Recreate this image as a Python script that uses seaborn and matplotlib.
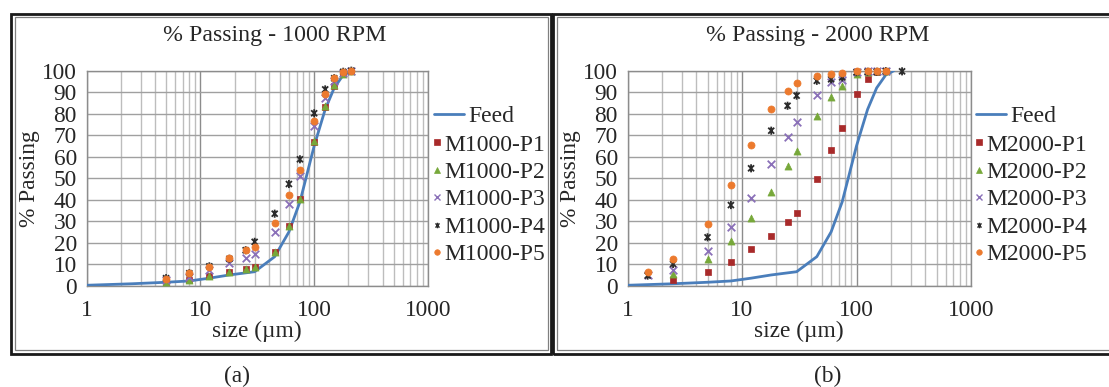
import numpy as np
import pandas as pd
import matplotlib
matplotlib.use("Agg")
import matplotlib.pyplot as plt
import seaborn as sns
from matplotlib.path import Path
from matplotlib.lines import Line2D
from matplotlib.patches import Rectangle
from matplotlib.ticker import LogLocator, FuncFormatter

# ---------------- data ----------------
feed_size = [1, 2.5, 5, 8, 12, 18, 30, 45, 60, 75, 100, 125, 150, 180, 212]
feed_pass = [0.2, 0.9, 1.6, 2.2, 3.5, 5.0, 6.5, 13.5, 25, 39, 65, 82, 92, 98, 100]

size_a = [5, 8, 12, 18, 25, 30, 45, 60, 75, 100, 125, 150, 180, 212]
m1000_p1 = [1.8, 2.5, 4.3, 6.5, 7.6, 8.6, 15.6, 27.8, 40.2, 67.0, 83.3, 93.0, 98.5, 100]
m1000_p2 = [1.9, 2.6, 4.4, 6.6, 7.7, 8.7, 15.8, 27.9, 40.3, 67.2, 83.5, 93.2, 98.6, 100]
m1000_p3 = [2.5, 4.2, 7.3, 10.6, 12.7, 14.8, 25.0, 38.2, 51.0, 74.4, 87.2, 95.0, 99.0, 100]
m1000_p4 = [3.5, 5.8, 9.0, 12.5, 16.5, 20.4, 33.5, 47.3, 58.8, 80.2, 91.3, 96.5, 99.5, 100]
m1000_p5 = [3.1, 6.0, 8.9, 12.7, 16.4, 18.0, 29.0, 42.2, 54.0, 76.8, 89.2, 96.7, 99.5, 100]

nan = np.nan
size_b = [1.5, 2.5, 5, 8, 12, 18, 25, 30, 45, 60, 75, 100, 125, 150, 180, 250]
m2000_p1 = [nan, 2.6, 6.2, 10.9, 16.9, 23.1, 29.5, 33.7, 49.5, 63.1, 73.2, 89.0, 96.1, 99.5, 100, nan]
m2000_p2 = [nan, 5.4, 12.3, 20.9, 31.3, 43.7, 55.7, 62.7, 79.0, 87.9, 92.9, 98.5, 99.5, 100, 100, nan]
m2000_p3 = [5.2, 7.3, 16.1, 27.5, 40.6, 56.5, 69.3, 76.0, 88.7, 94.9, 95.7, 99.5, 100, 100, 100, nan]
m2000_p4 = [4.7, 10.1, 22.5, 37.5, 54.6, 72.1, 83.7, 88.4, 95.3, 96.0, 96.9, 99.3, 99.5, 99.5, 99.8, 99.7]
m2000_p5 = [6.5, 12.3, 28.7, 46.8, 65.4, 82.0, 90.7, 94.1, 97.5, 98.5, 99.0, 99.9, 99.8, 100, 100, nan]

yticks = list(range(0, 101, 10))
xticks = [1, 10, 100, 1000]

# ---------------- style ----------------
sns.set_style("white")
plt.rcParams["font.family"] = ["Liberation Serif", "DejaVu Serif"]

W, H = 1109, 387
fig = plt.figure(figsize=(W / 100, H / 100), dpi=100)

def fx(x):
    return x / W

def fy(y):
    return 1 - y / H

feed_color = "#4a7ebb"
colors = ["#a82a2a", "#77a83a", "#8a70b8", "#2b2b2b", "#ec7a2e"]

star_path = Path(
    [(-1, -1), (1, 1), (-1, 1), (1, -1), (0, -1.35), (0, 1.35)],
    [Path.MOVETO, Path.LINETO, Path.MOVETO, Path.LINETO, Path.MOVETO, Path.LINETO],
)
markers = ["s", "^", "x", star_path, "o"]
msizes = [22, 26, 30, 34, 26]

FS = 16.8
LFS = 17.0


def draw_panel(ax_rect, sizes, series, names, title, title_x, leg_x):
    ax = fig.add_axes(ax_rect)
    fdf = pd.DataFrame({"size": feed_size, "pass": feed_pass})
    sns.lineplot(data=fdf, x="size", y="pass", ax=ax, color=feed_color, lw=2,
                 zorder=3, legend=False)
    for vals, c, m, s in zip(series, colors, markers, msizes):
        df = pd.DataFrame({"size": sizes, "pass": vals}).dropna()
        if m == "x":
            sns.scatterplot(data=df, x="size", y="pass", ax=ax, marker=m, color=c,
                            s=s, linewidth=1.3, zorder=4, legend=False, clip_on=False)
        elif m is star_path:
            sns.scatterplot(data=df, x="size", y="pass", ax=ax, marker=m,
                            facecolor="none", edgecolor=c, s=s, linewidth=1.3,
                            zorder=4, legend=False, clip_on=False)
        else:
            sns.scatterplot(data=df, x="size", y="pass", ax=ax, marker=m, color=c,
                            edgecolor=c, s=s, linewidth=0.5, zorder=4, legend=False,
                            clip_on=False)
    ax.set_xscale("log")
    ax.set_xlim(1, 1000)
    ax.set_ylim(0, 100)
    ax.set_xticks(xticks)
    ax.xaxis.set_major_formatter(FuncFormatter(lambda v, p: f"{v:g}"))
    ax.xaxis.set_minor_locator(LogLocator(base=10, subs=range(2, 10)))
    ax.set_yticks(yticks)
    ax.grid(which="major", axis="x", color="#8c8c8c", lw=1.0)
    ax.grid(which="minor", axis="x", color="#bdbdbd", lw=1.0)
    ax.grid(which="major", axis="y", color="#a0a0a0", lw=1.0)
    ax.set_axisbelow(True)
    for sp in ax.spines.values():
        sp.set_color("#8c8c8c")
        sp.set_linewidth(1.0)
    ax.tick_params(axis="both", which="major", length=5, width=1, color="#8c8c8c",
                   labelsize=FS, direction="out")
    ax.tick_params(axis="y", pad=2)
    ax.tick_params(axis="x", pad=5)
    ax.tick_params(axis="x", which="minor", length=0)
    ax.set_xlabel("size (µm)", fontsize=FS)
    ax.set_ylabel("% Passing", fontsize=FS)
    ax.xaxis.set_label_coords(0.5, -0.165)
    ax.yaxis.set_label_coords(-0.135, 0.5)
    ax.text(title_x, 1 + (70.7 - 36) / 215, title, transform=ax.transAxes,
            ha="center", va="center", fontsize=17.2)

    feed_h = Line2D([], [], color=feed_color, lw=2)
    fig.legend([feed_h], ["Feed"], loc="center left",
               bbox_to_anchor=(fx(leg_x), fy(116)), frameon=False,
               handlelength=1.25, handletextpad=0.2, borderpad=0,
               borderaxespad=0, fontsize=LFS)
    hs = [Line2D([], [], marker=m, color=c,
                 markerfacecolor=("none" if m is star_path else c),
                 linestyle="none", markersize=4,
                 markeredgewidth=(1.0 if (m is star_path or m == "x") else 0.5))
          for c, m in zip(colors, markers)]
    fig.legend(hs, names, loc="upper left",
               bbox_to_anchor=(fx(leg_x - 1), fy(134)), frameon=False,
               handlelength=0.35, handletextpad=0.15, borderpad=0,
               borderaxespad=0, labelspacing=0.25, fontsize=LFS)
    return ax


ax_a = draw_panel([fx(86.5), fy(285.7), 341.5 / W, 215 / H], size_a,
                  [m1000_p1, m1000_p2, m1000_p3, m1000_p4, m1000_p5],
                  ["M1000-P1", "M1000-P2", "M1000-P3", "M1000-P4", "M1000-P5"],
                  "% Passing - 1000 RPM", 0.552, 434)
ax_b = draw_panel([fx(627.5), fy(285.7), 343.5 / W, 215 / H], size_b,
                  [m2000_p1, m2000_p2, m2000_p3, m2000_p4, m2000_p5],
                  ["M2000-P1", "M2000-P2", "M2000-P3", "M2000-P4", "M2000-P5"],
                  "% Passing - 2000 RPM", 0.555, 976)

# panel frames (double border)
for x0, x1 in [(11, 551), (553, 1116)]:
    fig.add_artist(Rectangle((fx(x0), fy(353.5)), (x1 - x0) / W, (353.5 - 13.5) / H,
                             transform=fig.transFigure, fill=False, lw=2.0,
                             ec="#1a1a1a", zorder=0))
    fig.add_artist(Rectangle((fx(x0 + 3.5), fy(350)), (x1 - x0 - 7) / W, (350 - 17) / H,
                             transform=fig.transFigure, fill=False, lw=0.9,
                             ec="#808080", zorder=0))

fig.text(fx(237), fy(376), "(a)", ha="center", va="center", fontsize=FS)
fig.text(fx(828), fy(376), "(b)", ha="center", va="center", fontsize=FS)

fig.savefig("out.png", dpi=100)
